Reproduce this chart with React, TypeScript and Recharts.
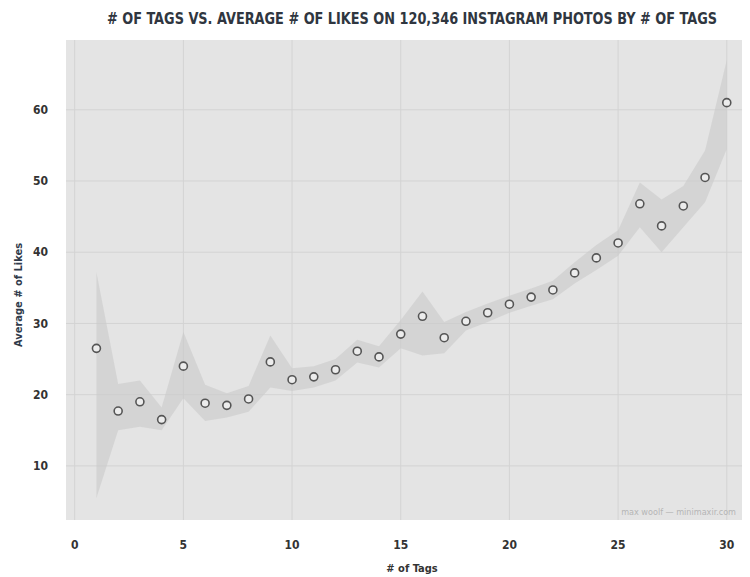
import React from "react";
import {
  ComposedChart,
  Area,
  Line,
  XAxis,
  YAxis,
  CartesianGrid,
} from "recharts";

// # of tags on the photo
const tags = [
  1, 2, 3, 4, 5, 6, 7, 8, 9, 10, 11, 12, 13, 14, 15, 16, 17, 18, 19, 20, 21,
  22, 23, 24, 25, 26, 27, 28, 29, 30,
];

// average # of likes
const avgLikes = [
  26.5, 17.7, 19.0, 16.5, 24.0, 18.8, 18.5, 19.4, 24.6, 22.1, 22.5, 23.5, 26.1,
  25.3, 28.5, 31.0, 28.0, 30.3, 31.5, 32.7, 33.7, 34.7, 37.1, 39.2, 41.3, 46.8,
  43.7, 46.5, 50.5, 61.0,
];

// confidence band
const lower = [
  5.5, 15.0, 15.5, 15.0, 19.5, 16.3, 16.8, 17.6, 21.0, 20.5, 21.0, 22.0, 24.5,
  23.8, 26.5, 25.5, 25.8, 29.0, 30.2, 31.5, 32.5, 33.4, 35.6, 37.5, 39.5, 43.5,
  40.0, 43.5, 47.0, 54.5,
];
const upper = [
  37.2, 21.5, 22.0, 18.2, 28.8, 21.4, 20.2, 21.2, 28.3, 23.7, 24.0, 25.0, 27.7,
  26.8, 30.5, 34.5, 30.2, 31.6, 32.8, 33.9, 34.9, 36.0, 38.6, 41.0, 43.1, 49.8,
  47.4, 49.3, 54.3, 67.0,
];

const xTicks = [0, 5, 10, 15, 20, 25, 30];
const yTicks = [10, 20, 30, 40, 50, 60];

const data = tags.map((t, i) => ({
  tags: t,
  likes: avgLikes[i],
  band: [lower[i], upper[i]],
}));

const condensed = "'DejaVu Sans Condensed', 'Liberation Sans Narrow', sans-serif";

const HollowDot = (props: any) => {
  const { cx, cy, index } = props;
  if (cx == null || cy == null) return null;
  return (
    <circle
      key={`dot-${index}`}
      cx={cx}
      cy={cy}
      r={4}
      fill="#ececec"
      stroke="#555"
      strokeWidth={1.6}
    />
  );
};

export default function App() {
  return (
    <div
      style={{
        position: "absolute",
        left: 0,
        top: 0,
        width: 750,
        height: 577,
        background: "#fff",
      }}
    >
      <ComposedChart
        width={750}
        height={577}
        data={data}
        margin={{ top: 40, right: 8, bottom: 27, left: 10 }}
      >
        <CartesianGrid
          fill="#e4e4e4"
          stroke="#d3d3d3"
          strokeWidth={1}
          horizontalValues={yTicks}
          verticalValues={xTicks}
        />
        <XAxis
          dataKey="tags"
          type="number"
          domain={[-0.4, 30.7]}
          ticks={xTicks}
          allowDataOverflow
          axisLine={false}
          tickLine={false}
          height={30}
          tick={{
            fill: "#333",
            fontSize: 12,
            fontWeight: 700,
            fontFamily: condensed,
          }}
          tickMargin={14}
        />
        <YAxis
          type="number"
          domain={[2.4, 69.8]}
          ticks={yTicks}
          allowDataOverflow
          axisLine={false}
          tickLine={false}
          width={56}
          tick={{
            fill: "#333",
            fontSize: 12,
            fontWeight: 700,
            fontFamily: condensed,
          }}
          tickMargin={12}
        />
        <Area
          dataKey="band"
          type="linear"
          fill="#c9c9c9"
          fillOpacity={0.6}
          stroke="none"
          isAnimationActive={false}
        />
        <Line
          dataKey="likes"
          stroke="none"
          dot={<HollowDot />}
          activeDot={false}
          isAnimationActive={false}
        />
        <text
          x={412}
          y={24}
          textAnchor="middle"
          fontFamily={condensed}
          fontWeight={700}
          fontSize={15}
          fill="#2f3640"
          textLength={610}
          lengthAdjust="spacingAndGlyphs"
        >
          # OF TAGS VS. AVERAGE # OF LIKES ON 120,346 INSTAGRAM PHOTOS BY # OF TAGS
        </text>
        <text
          x={412}
          y={572}
          textAnchor="middle"
          fontFamily={condensed}
          fontWeight={700}
          fontSize={11}
          fill="#333"
        >
          # of Tags
        </text>
        <text
          x={22}
          y={295}
          textAnchor="middle"
          transform="rotate(-90 22 295)"
          fontFamily={condensed}
          fontWeight={700}
          fontSize={11}
          fill="#2f3a4a"
        >
          Average # of Likes
        </text>
        <text
          x={736}
          y={515}
          textAnchor="end"
          fontFamily={condensed}
          fontSize={9}
          fill="#b5b5b5"
        >
          max woolf — minimaxir.com
        </text>
      </ComposedChart>
    </div>
  );
}
